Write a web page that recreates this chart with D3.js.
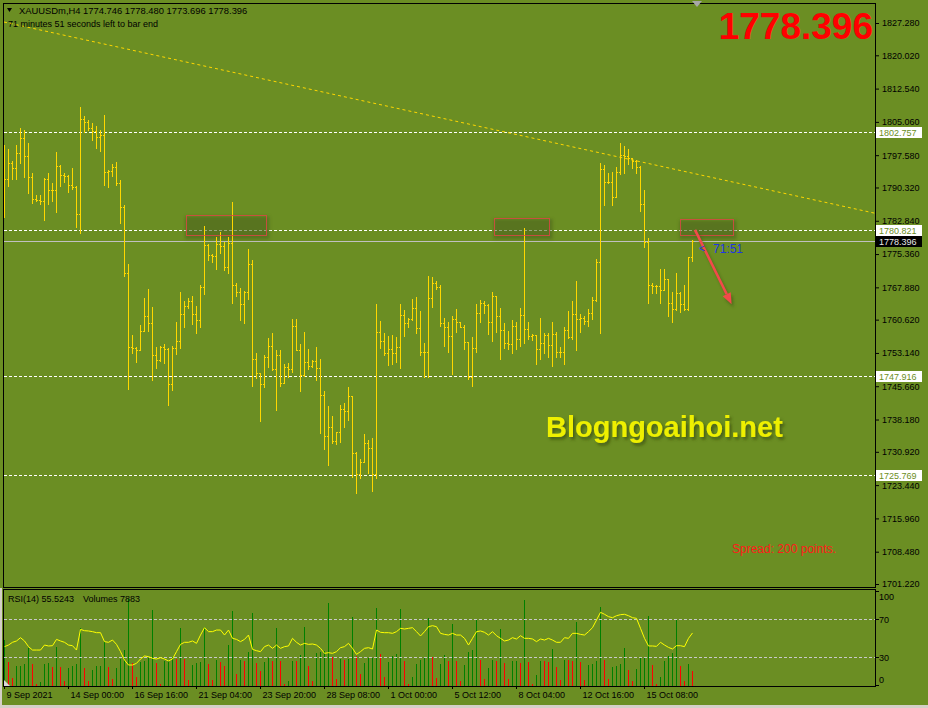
<!DOCTYPE html>
<html>
<head>
<meta charset="utf-8">
<script src="https://cdn.jsdelivr.net/npm/d3@7"></script>
<style>
  body { margin: 0; background: #6B8E23; }
  svg text { font-family: "Liberation Sans", Arial, sans-serif; }
</style>
</head>
<body>
<svg width="928" height="708"></svg>
<script>
// ---- data ----
var opens = [
  1790.00,1792.16,1795.89,1794.63,1798.07,1801.37,1797.46,1792.61,1787.67,1787.51,
  1787.22,1792.16,1789.69,1789.69,1795.15,1793.06,1792.83,1790.81,1790.36,1784.30,
  1805.64,1804.97,1803.62,1803.08,1801.60,1802.05,1793.80,1794.09,1794.86,1791.26,
  1785.87,1771.04,1754.55,1754.19,1753.80,1758.14,1761.44,1759.87,1752.62,1751.49,
  1754.55,1753.96,1746.17,1754.19,1755.83,1761.89,1763.69,1764.81,1761.83,1760.61,
  1767.96,1777.33,1775.08,1774.86,1777.56,1777.11,1772.39,1777.92,1768.34,1766.90,
  1764.07,1766.77,1773.06,1751.78,1748.57,1746.10,1752.16,1754.70,1749.54,1752.62,
  1746.46,1750.05,1749.54,1759.13,1753.80,1748.12,1751.04,1750.21,1751.33,1749.69,
  1743.69,1734.41,1736.50,1733.29,1735.31,1740.48,1740.10,1743.40,1730.59,1725.87,
  1728.71,1732.84,1731.72,1725.87,1757.92,1755.76,1753.06,1753.96,1753.06,1754.41,
  1761.67,1759.94,1760.70,1763.17,1758.68,1753.29,1753.42,1765.42,1768.79,1767.89,
  1759.81,1759.04,1756.88,1760.70,1760.03,1759.04,1755.53,1747.81,1754.32,1762.05,
  1764.30,1763.85,1760.03,1765.87,1761.37,1758.23,1755.44,1755.08,1759.13,1756.28,
  1761.60,1758.46,1756.88,1757.17,1753.96,1755.31,1757.17,1754.86,1757.40,1753.29,
  1753.29,1758.30,1756.66,1761.83,1760.77,1761.06,1760.32,1762.05,1764.97,1773.51,
  1794.41,1791.62,1791.49,1788.25,1793.73,1797.62,1797.40,1796.88,1796.34,1794.99,
  1786.61,1778.14,1768.41,1768.18,1768.18,1767.29,1769.65,1764.30,1763.02,1766.50,
  1764.07,1762.92,1774.746
];
var highs = [
  1799.87,1798.97,1796.27,1799.87,1803.69,1803.24,1800.32,1793.58,1788.63,1788.63,
  1792.45,1793.58,1791.33,1798.30,1795.37,1793.58,1793.13,1794.70,1790.66,1808.41,
  1806.38,1805.49,1804.74,1804.14,1803.24,1806.61,1794.25,1795.60,1796.05,1792.00,
  1786.32,1773.13,1757.17,1754.55,1759.42,1765.42,1767.51,1763.47,1754.41,1754.70,
  1755.15,1754.32,1754.70,1760.10,1766.84,1764.81,1765.42,1765.94,1763.69,1768.41,
  1781.67,1777.62,1775.38,1779.20,1780.32,1778.07,1779.20,1787.06,1768.79,1767.74,
  1767.06,1776.50,1774.03,1753.06,1748.57,1752.68,1756.43,1757.63,1753.87,1753.87,
  1750.66,1750.82,1760.70,1760.70,1755.15,1757.85,1754.03,1751.53,1754.48,1751.78,
  1744.59,1741.22,1738.97,1735.45,1741.45,1741.96,1745.49,1743.40,1730.89,1729.31,
  1734.93,1733.58,1734.03,1764.14,1760.25,1757.56,1756.95,1757.17,1756.66,1764.14,
  1762.79,1760.93,1765.27,1765.72,1762.50,1755.38,1770.36,1770.21,1769.31,1768.41,
  1761.00,1760.10,1761.44,1763.02,1760.10,1759.42,1755.53,1756.73,1764.14,1765.04,
  1764.81,1764.14,1766.84,1765.87,1763.24,1759.87,1758.01,1760.55,1760.03,1763.24,
  1781.22,1760.16,1757.47,1757.17,1761.00,1757.63,1757.63,1760.10,1757.85,1754.48,
  1758.97,1762.64,1764.88,1769.38,1761.89,1761.51,1763.02,1765.72,1774.25,1795.89,
  1795.37,1793.51,1793.87,1794.86,1800.25,1799.71,1798.97,1796.95,1796.43,1795.22,
  1789.76,1778.90,1768.79,1768.41,1771.94,1771.94,1769.69,1766.77,1771.04,1766.77,
  1768.41,1774.77,1778.48
];
var lows = [
  1783.62,1790.72,1792.30,1792.30,1795.89,1792.75,1789.15,1786.90,1787.22,1786.68,
  1783.08,1786.68,1787.35,1784.88,1790.72,1791.62,1789.38,1789.91,1781.51,1780.16,
  1802.72,1803.24,1801.06,1799.26,1798.59,1790.95,1790.50,1792.90,1790.81,1782.41,
  1770.43,1744.97,1753.06,1751.18,1753.80,1758.14,1758.07,1747.06,1749.83,1751.33,
  1750.95,1741.45,1744.82,1752.97,1754.32,1759.04,1763.17,1759.65,1757.69,1759.04,
  1766.46,1774.09,1773.65,1772.07,1775.67,1771.85,1771.17,1764.43,1766.01,1760.55,
  1759.94,1765.33,1745.78,1747.58,1737.85,1745.56,1749.98,1749.31,1740.39,1745.71,
  1746.40,1747.81,1748.93,1753.80,1744.66,1747.96,1749.47,1749.92,1747.13,1735.16,
  1731.63,1728.03,1732.84,1732.75,1733.20,1736.57,1738.08,1725.34,1721.61,1724.98,
  1728.71,1726.23,1722.19,1725.11,1754.25,1752.75,1750.50,1750.66,1751.18,1749.69,
  1757.02,1759.04,1760.60,1757.69,1752.75,1747.67,1747.81,1763.40,1767.44,1759.27,
  1754.77,1753.42,1748.41,1757.92,1758.97,1754.03,1747.22,1745.78,1753.42,1760.16,
  1762.19,1757.47,1755.92,1757.92,1751.85,1754.32,1754.10,1753.20,1754.10,1754.77,
  1755.44,1756.21,1756.05,1750.73,1751.72,1753.20,1752.16,1750.14,1752.30,1752.16,
  1750.59,1756.43,1756.28,1753.87,1757.92,1759.72,1759.27,1760.70,1764.88,1757.69,
  1786.39,1791.26,1786.39,1788.25,1793.35,1793.51,1795.60,1794.63,1793.64,1785.11,
  1777.02,1764.43,1766.54,1766.54,1764.30,1767.20,1761.51,1760.16,1762.90,1762.41,
  1762.79,1762.90,1773.70
];
var closes = [
  1792.16,1795.89,1794.63,1798.07,1801.37,1797.46,1792.61,1787.67,1787.51,1787.22,
  1792.16,1789.69,1789.69,1795.15,1793.06,1792.83,1790.81,1790.36,1784.30,1805.64,
  1804.97,1803.62,1803.08,1801.60,1802.05,1793.80,1794.09,1794.86,1791.26,1785.87,
  1771.04,1754.55,1754.19,1753.80,1758.14,1761.44,1759.87,1752.62,1751.49,1754.55,
  1753.96,1746.17,1754.19,1755.83,1761.89,1763.69,1764.81,1761.83,1760.61,1767.96,
  1777.33,1775.08,1774.86,1777.56,1777.11,1772.39,1777.92,1768.34,1766.90,1764.07,
  1766.77,1773.06,1751.78,1748.57,1746.10,1752.16,1754.70,1749.54,1752.62,1746.46,
  1750.05,1749.54,1759.13,1753.80,1748.12,1751.04,1750.21,1751.33,1749.69,1743.69,
  1734.41,1736.50,1733.29,1735.31,1740.48,1740.10,1743.40,1730.59,1725.87,1728.71,
  1732.84,1731.72,1725.87,1757.92,1755.76,1753.06,1753.96,1753.06,1754.41,1761.67,
  1759.94,1760.70,1763.17,1758.68,1753.29,1753.42,1765.42,1768.79,1767.89,1759.81,
  1759.04,1756.88,1760.70,1760.03,1759.04,1755.53,1747.81,1754.32,1762.05,1764.30,
  1763.85,1760.03,1765.87,1761.37,1758.23,1755.44,1755.08,1759.13,1756.28,1761.60,
  1758.46,1756.88,1757.17,1753.96,1755.31,1757.17,1754.86,1757.40,1753.29,1753.29,
  1758.30,1756.66,1761.83,1760.77,1761.06,1760.32,1762.05,1764.97,1773.51,1794.41,
  1791.62,1791.49,1788.25,1793.73,1797.62,1797.40,1796.88,1796.34,1794.99,1786.61,
  1778.14,1768.41,1768.18,1768.18,1767.29,1769.65,1764.30,1763.02,1766.50,1764.07,
  1762.92,1774.77,1778.396
];
var rsiValues = [
  41.0,42.7,45.6,47.0,50.5,47.0,41.0,37.4,37.4,37.4,
  42.7,41.7,42.0,48.7,47.0,45.6,42.7,42.0,37.4,59.3,
  57.9,57.6,56.9,55.8,55.8,46.3,45.6,48.0,43.4,35.7,
  26.8,21.5,21.5,23.3,27.9,31.1,30.4,28.6,27.9,29.3,
  27.9,25.8,27.9,35.7,43.4,45.6,45.6,47.0,44.5,53.3,
  61.1,56.9,56.9,58.6,58.6,53.3,58.6,49.8,48.7,46.3,
  48.7,53.3,38.1,36.7,35.7,41.0,42.7,39.2,42.7,39.2,
  41.0,41.7,49.8,45.6,42.7,44.5,43.4,43.8,42.7,39.2,
  33.9,34.6,33.9,35.7,39.9,41.0,44.5,39.2,32.8,35.7,
  39.2,39.9,38.5,58.6,56.2,55.8,55.8,55.1,56.9,60.4,
  59.7,60.4,61.1,56.9,52.3,56.9,62.2,63.2,62.2,55.1,
  54.0,53.3,55.1,53.3,53.3,49.8,42.7,49.8,56.9,57.6,
  56.2,53.3,56.9,52.6,49.8,47.0,48.0,50.5,49.1,52.6,
  49.8,49.8,49.1,46.3,49.1,48.0,49.8,48.0,45.6,45.6,
  50.5,49.8,55.1,55.1,54.0,53.3,56.9,61.1,69.2,77.4,
  75.3,72.8,71.7,73.8,74.9,75.3,73.8,71.7,71.0,60.4,
  49.8,41.7,41.7,41.3,45.6,42.7,40.2,38.5,42.0,42.0,
  41.0,49.8,55.5
];
var volumes = [
  24150,12425,4025,10500,10700,11550,20125,11550,1050,1925,
  11550,12075,9975,20650,9975,2625,9450,10325,11550,30275,
  9450,2625,8225,10500,10700,23625,9975,3675,9450,14175,
  19075,45675,12075,4725,12425,13125,14700,39900,12075,1050,
  13125,13300,15225,14175,30625,14175,3150,11025,12075,12600,
  31150,11550,3150,13650,12600,10325,21525,39375,6300,13650,
  13125,17850,38325,12075,7875,12600,14700,13125,30450,13125,
  1050,2625,13125,12900,16275,30975,10500,2625,17500,18025,
  18375,43400,15225,3675,14350,13650,14000,36225,15750,6300,
  12075,14700,14900,40950,16800,4725,12600,15750,16800,40425,
  13125,1050,4725,11550,13650,15225,35700,15225,4200,11550,
  16275,13125,32550,13125,2625,11025,17850,18900,35175,13650,
  3675,9450,13650,13125,29925,12075,3675,13125,13300,12075,
  45150,12600,1050,5775,13125,12950,12600,19425,9975,3150,
  13650,13400,13125,33600,12600,3150,11025,11550,13125,41475,
  13650,3675,9975,10500,11550,19950,8400,2625,8925,15225,
  15400,36750,11025,1050,4725,13125,15750,17325,35350,10500,
  2625,11550,7875
];

var timeLabels = ["9 Sep 2021", "14 Sep 00:00", "16 Sep 16:00", "21 Sep 04:00", "23 Sep 20:00",
  "28 Sep 08:00", "1 Oct 00:00", "5 Oct 12:00", "8 Oct 04:00", "12 Oct 16:00", "15 Oct 08:00"];
var labelBars = [0, 16, 32, 48, 64, 80, 96, 112, 128, 144, 160];
var priceTicks = [1827.28, 1820.02, 1812.54, 1805.06, 1797.58, 1790.32, 1782.84, 1775.36, 1767.88,
  1760.62, 1753.14, 1745.66, 1738.18, 1730.92, 1723.44, 1715.96, 1708.48, 1701.22];
var levels = [1802.757, 1780.821, 1747.916, 1725.769];
var rsiLevels = [100, 70, 30, 0];
var lastPrice = 1778.396;

// drawn objects, in (bar, price) units
var trendFrom = [0, 1827.5], trendTo = [150, 1797.9];
var boxes = [[45.5, 65.6, 1784.07, 1779.58], [122.6, 136.4, 1783.47, 1779.58], [169.1, 182.4, 1783.17, 1779.58]];
var arrowFrom = [172.75, 1780.8], arrowTo = [181.9, 1764.1];

var svg = d3.select("svg"),
    width = +svg.attr("width"),
    height = +svg.attr("height");

var olive = "#6B8E23",
    gold = "#FFD700";

var x = d3.scaleLinear().domain([0, 172]).range([4, 692]);
var y = d3.scaleLinear().domain([1701.22, 1827.28]).range([584, 23]);
var rsiY = d3.scaleLinear().domain([0, 100]).range([685.3, 591]);
var volY = d3.scaleLinear().domain([0, 50400]).range([686, 590]);
var plotRight = 875;

var bars = closes.map(function(c, i) {
  return { i: i, o: opens[i], h: highs[i], l: lows[i], c: c };
});

svg.append("rect").attr("width", width).attr("height", height).attr("fill", olive);

var defs = svg.append("defs");
defs.append("filter").attr("id", "blur")
    .attr("x", "-20%").attr("y", "-20%").attr("width", "140%").attr("height", "140%")
    .append("feGaussianBlur").attr("stdDeviation", 1.6);
defs.append("filter").attr("id", "drop")
    .attr("x", "-10%").attr("y", "-30%").attr("width", "120%").attr("height", "160%")
    .append("feDropShadow")
    .attr("dx", 2).attr("dy", 2.5).attr("stdDeviation", 1.4)
    .attr("flood-color", "#3a4d10").attr("flood-opacity", 0.75);

// window borders
svg.append("rect").attr("x", 0).attr("y", 588).attr("width", 2).attr("height", 120).attr("fill", "#d4d0c8");
svg.append("rect").attr("x", 0).attr("y", 705).attr("width", width).attr("height", 3).attr("fill", "#d4d0c8");

// horizontal levels
svg.append("g")
    .selectAll("line")
    .data(levels)
    .enter().append("line")
    .attr("x1", 4).attr("x2", plotRight)
    .attr("y1", function(d) { return Math.round(y(d)) + 0.5; })
    .attr("y2", function(d) { return Math.round(y(d)) + 0.5; })
    .attr("stroke", "#ffffff")
    .attr("stroke-dasharray", "3,2");

svg.append("line")
    .attr("x1", 4).attr("x2", plotRight)
    .attr("y1", Math.round(y(lastPrice)) + 0.5).attr("y2", Math.round(y(lastPrice)) + 0.5)
    .attr("stroke", "#c0c0c0");

// trend line extended to the right edge
var endBar = x.invert(plotRight);
var slope = (trendTo[1] - trendFrom[1]) / (trendTo[0] - trendFrom[0]);
svg.append("line")
    .attr("x1", x(trendFrom[0])).attr("y1", y(trendFrom[1]))
    .attr("x2", plotRight).attr("y2", y(trendFrom[1] + slope * (endBar - trendFrom[0])))
    .attr("stroke", gold)
    .attr("stroke-dasharray", "3,3");

// rectangle shadows
svg.append("g")
    .selectAll("rect")
    .data(boxes)
    .enter().append("rect")
    .attr("x", function(d) { return x(d[0]) - 1; })
    .attr("y", function(d) { return y(d[2]) + 1; })
    .attr("width", function(d) { return x(d[1]) - x(d[0]) + 4; })
    .attr("height", function(d) { return y(d[3]) - y(d[2]) + 3; })
    .attr("fill", "#48601a")
    .attr("opacity", 0.55)
    .attr("filter", "url(#blur)");

// price bars (HL line, open tick left, close tick right)
var gBars = svg.append("g").attr("fill", gold).attr("shape-rendering", "crispEdges");
gBars.selectAll("rect.hl")
    .data(bars)
    .enter().append("rect")
    .attr("class", "hl")
    .attr("x", function(d) { return x(d.i); })
    .attr("y", function(d) { return Math.round(y(d.h)); })
    .attr("width", 1)
    .attr("height", function(d) { return Math.max(1, Math.round(y(d.l)) - Math.round(y(d.h)) + 1); });
gBars.selectAll("rect.op")
    .data(bars)
    .enter().append("rect")
    .attr("class", "op")
    .attr("x", function(d) { return x(d.i) - 1; })
    .attr("y", function(d) { return Math.round(y(d.o)); })
    .attr("width", 1).attr("height", 1);
gBars.selectAll("rect.cl")
    .data(bars)
    .enter().append("rect")
    .attr("class", "cl")
    .attr("x", function(d) { return x(d.i) + 1; })
    .attr("y", function(d) { return Math.round(y(d.c)); })
    .attr("width", 1).attr("height", 1);

// rectangle outlines
svg.append("g")
    .selectAll("rect")
    .data(boxes)
    .enter().append("rect")
    .attr("x", function(d) { return Math.round(x(d[0])) + 0.5; })
    .attr("y", function(d) { return Math.round(y(d[2])) + 0.5; })
    .attr("width", function(d) { return Math.round(x(d[1]) - x(d[0])); })
    .attr("height", function(d) { return Math.round(y(d[3]) - y(d[2])); })
    .attr("fill", "none")
    .attr("stroke", "#e04545")
    .attr("stroke-opacity", 0.8);

// red arrow with shadow
function drawArrow(g, color, dx, dy) {
  var x1 = x(arrowFrom[0]) + dx, y1 = y(arrowFrom[1]) + dy,
      x2 = x(arrowTo[0]) + dx, y2 = y(arrowTo[1]) + dy;
  var ang = Math.atan2(y2 - y1, x2 - x1), len = 11, wid = 4.5;
  var bx = x2 - len * Math.cos(ang), by = y2 - len * Math.sin(ang);
  g.append("line")
      .attr("x1", x1).attr("y1", y1).attr("x2", bx).attr("y2", by)
      .attr("stroke", color).attr("stroke-width", 2.6);
  g.append("polygon")
      .attr("points", [[x2, y2],
        [bx + wid * Math.sin(ang), by - wid * Math.cos(ang)],
        [bx - wid * Math.sin(ang), by + wid * Math.cos(ang)]].join(" "))
      .attr("fill", color);
}
var arrowShadow = svg.append("g").attr("opacity", 0.6).attr("filter", "url(#blur)");
drawArrow(arrowShadow, "#3d5212", 2, 3);
drawArrow(svg.append("g"), "#f24a4a", 0, 0);

// countdown next to the last bar
svg.append("text").attr("x", 699).attr("y", 252).attr("font-size", 10).attr("fill", "#2035e8").text("<");
svg.append("text").attr("x", 713).attr("y", 252.5).attr("font-size", 12).attr("fill", "#2035e8").text("71:51");

// main window frame
svg.append("rect")
    .attr("x", 3.5).attr("y", 3.5).attr("width", plotRight - 3).attr("height", 584)
    .attr("fill", "none").attr("stroke", "#000");

// price axis
var priceAxis = d3.axisRight(y)
    .tickValues(priceTicks)
    .tickSize(4)
    .tickPadding(3)
    .tickFormat(d3.format(".3f"));
var gPrice = svg.append("g")
    .attr("transform", "translate(" + plotRight + ",0)")
    .call(priceAxis);
gPrice.select(".domain").remove();
gPrice.attr("font-family", null).attr("font-size", 9);
gPrice.selectAll("text").attr("fill", "#000");

// price tags on the axis
var tags = svg.append("g").attr("font-size", 9);
levels.forEach(function(v) {
  var yy = Math.round(y(v));
  tags.append("rect").attr("x", 876).attr("y", yy - 5).attr("width", 46).attr("height", 11).attr("fill", "#fff");
  tags.append("text").attr("x", 879).attr("y", yy + 3.5).attr("fill", olive).text(v.toFixed(3));
});
var yl = Math.round(y(lastPrice));
tags.append("rect").attr("x", 876).attr("y", yl - 5).attr("width", 46).attr("height", 11).attr("fill", "#000");
tags.append("text").attr("x", 879).attr("y", yl + 3.5).attr("fill", "#e8e8e8").text(lastPrice.toFixed(3));

// ---- RSI / volumes window ----
var gVol = svg.append("g").attr("shape-rendering", "crispEdges");
gVol.selectAll("rect")
    .data(volumes)
    .enter().append("rect")
    .attr("x", function(d, i) { return x(i); })
    .attr("y", function(d) { return volY(d); })
    .attr("width", 1)
    .attr("height", function(d) { return 686 - volY(d); })
    .attr("fill", function(d, i) { return i === 0 || d > volumes[i - 1] ? "#008000" : "#ff0000"; });

svg.append("g")
    .selectAll("line")
    .data([70, 30])
    .enter().append("line")
    .attr("x1", 4).attr("x2", plotRight)
    .attr("y1", function(d) { return Math.round(rsiY(d)) + 0.5; })
    .attr("y2", function(d) { return Math.round(rsiY(d)) + 0.5; })
    .attr("stroke", "#c8c8c8")
    .attr("stroke-dasharray", "3,2");

var rsiLine = d3.line()
    .x(function(d, i) { return x(i) + 0.5; })
    .y(function(d) { return rsiY(d); });
svg.append("path")
    .datum(rsiValues)
    .attr("d", rsiLine)
    .attr("fill", "none")
    .attr("stroke", "#ffff00")
    .attr("stroke-width", 1);

svg.append("rect")
    .attr("x", 3.5).attr("y", 589.5).attr("width", plotRight - 3).attr("height", 97)
    .attr("fill", "none").attr("stroke", "#000");
svg.append("polygon").attr("points", "4,680 4,686 10,686").attr("fill", "#d8d8d8");

// rsi scale (labels kept inside the window like the terminal does)
var gRsi = svg.append("g").attr("font-size", 9);
rsiLevels.forEach(function(v) {
  var yy = Math.round(rsiY(v)) + 0.5;
  gRsi.append("line").attr("x1", plotRight).attr("x2", plotRight + 4).attr("y1", yy).attr("y2", yy).attr("stroke", "#000");
  gRsi.append("text")
      .attr("x", 879)
      .attr("y", Math.min(Math.max(yy, 597), 680) + 3.2)
      .attr("fill", "#000")
      .text(v);
});

// time axis
var timeAxis = d3.axisBottom(x)
    .tickValues(labelBars)
    .tickSize(3)
    .tickFormat(function(d, i) { return timeLabels[i]; });
var gTime = svg.append("g")
    .attr("transform", "translate(0,686)")
    .call(timeAxis);
gTime.select(".domain").remove();
gTime.attr("font-family", null).attr("font-size", 9);
gTime.selectAll("text")
    .attr("text-anchor", "start")
    .attr("x", 2)
    .attr("y", 6)
    .attr("fill", "#000");

// ---- texts ----
svg.append("polygon").attr("points", "7,8 12,8 9.5,12").attr("fill", "#000");
svg.append("text").attr("x", 19).attr("y", 14).attr("font-size", 9.4).attr("fill", "#000")
    .text("XAUUSDm,H4  1774.746 1778.480 1773.696 1778.396");
svg.append("text").attr("x", 8).attr("y", 26.5).attr("font-size", 9).attr("fill", "#000")
    .text("71 minutes 51 seconds left to bar end");
svg.append("text").attr("x", 8).attr("y", 601.5).attr("font-size", 9).attr("fill", "#000")
    .text("RSI(14) 55.5243");
svg.append("text").attr("x", 83).attr("y", 601.5).attr("font-size", 9).attr("fill", "#000")
    .text("Volumes 7883");

svg.append("polygon").attr("points", "692,1 702,1 697,7").attr("fill", "#a8a8a8");

svg.append("text")
    .attr("x", 873).attr("y", 39)
    .attr("text-anchor", "end")
    .attr("font-size", 37).attr("font-weight", "bold")
    .attr("fill", "#ff0000")
    .text("1778.396");

svg.append("text")
    .attr("x", 546).attr("y", 437)
    .attr("font-size", 29).attr("font-weight", "bold")
    .attr("fill", "#eef000")
    .attr("filter", "url(#drop)")
    .text("Blogngoaihoi.net");

svg.append("text")
    .attr("x", 732).attr("y", 553)
    .attr("font-size", 12)
    .attr("fill", "#ff1a1a")
    .text("Spread: 200 points.");
</script>
</body>
</html>
